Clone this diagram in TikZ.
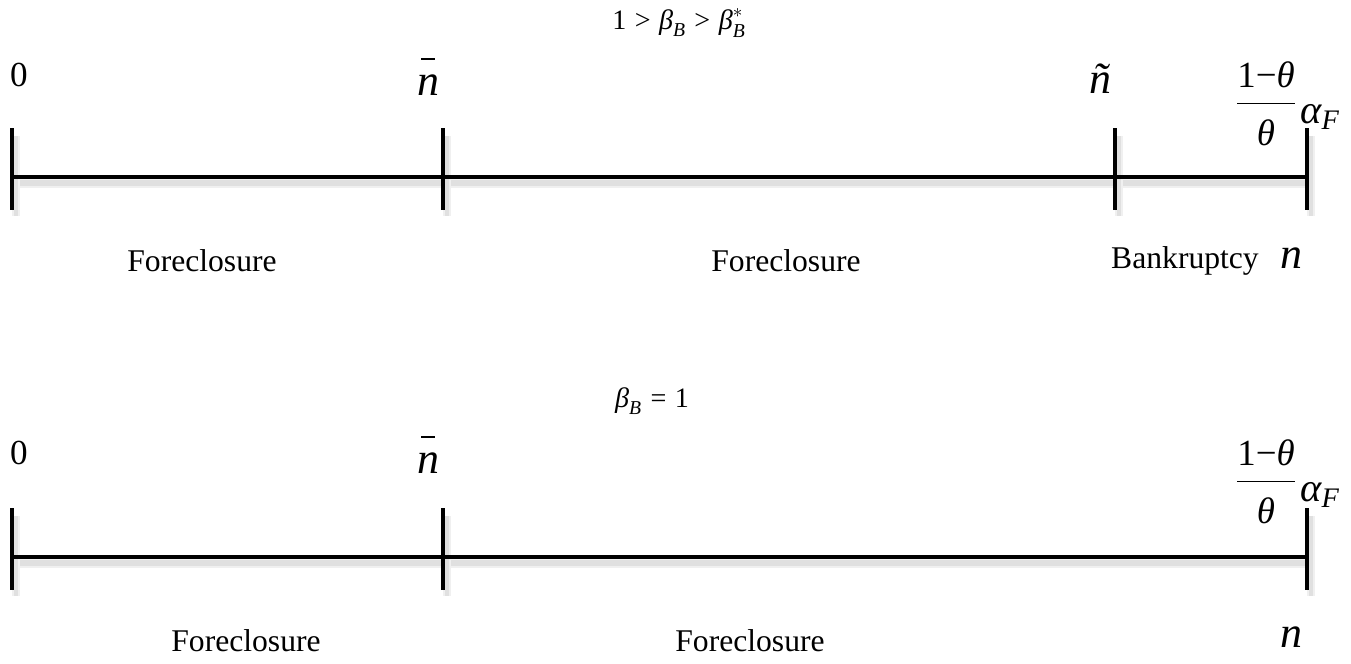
\documentclass[tikz,border=0pt]{standalone}
\usepackage{amsmath}
\usepackage{fontspec}
\setmainfont{Liberation Serif}
\newcommand{\iv}[1]{\text{\itshape #1}}
\newcommand{\nbar}{\makebox[0pt][l]{\hspace{2.5pt}\raisebox{20pt}{\rule{8pt}{0.9pt}}}\itshape n}
\newcommand{\fracF}{\(\dfrac{\text{1−\itshape θ}\rule[-6pt]{0pt}{6pt}}{\rule{0pt}{21pt}\iv{θ}}\)}

\begin{document}
\begin{tikzpicture}[x=0.02cm,y=-0.02cm]
    \useasboundingbox (0,0) rectangle (1351,663);
    % top line: 1 > beta_B > beta_B^*
    \node[font=\fontsize{16}{18}\selectfont] (ttl1) at (679,23) {\(\text{1} \mathrel{\text{>}} \iv{β}_{\iv{B}} \mathrel{\text{>}} \iv{β}^{*}_{\iv{B}}\)};
    \begin{scope}[shift={(4,6)}]
        \draw[black!6,line width=6pt] (12,177) -- (1307,177);
        \draw[black!12,line width=3pt] (12,177) -- (1307,177);
        \foreach \x in {12,443,1115,1307}{
            \draw[black!6,line width=5pt] (\x,130) -- (\x,210);
            \draw[black!12,line width=2.5pt] (\x,130) -- (\x,210);
        }
    \end{scope}
    \draw[line width=2pt] (12,177) -- (1307,177);
    \foreach \x in {12,443,1115,1307}{
        \draw[line width=2.3pt] (\x,128) -- (\x,210);
    }
    \node[font=\fontsize{20}{22}\selectfont] (zr1) at (19,75) {0};
    \node[font=\fontsize{25}{28}\selectfont,anchor=base] (nb1) at (428,95) {\nbar};
    \node[font=\fontsize{25}{28}\selectfont,anchor=base] (nt1) at (1100,93) {\itshape ñ};
    \node[font=\fontsize{21}{23}\selectfont] (fr1) at (1266,104) {\fracF};
    \node[font=\fontsize{23}{25}\selectfont] (af1) at (1320,117) {\(\iv{α}_{\iv{F}}\)};
    \node[font=\fontsize{18}{20}\selectfont] (fc1) at (202,261) {Foreclosure};
    \node[font=\fontsize{18}{20}\selectfont] (fc2) at (786,261) {Foreclosure};
    \node[font=\fontsize{18}{20}\selectfont] (bk1) at (1185,261) {Bankruptcy};
    \node[font=\fontsize{25}{28}\selectfont,anchor=base] (nn1) at (1291,268) {\itshape n};

    % bottom line: beta_B = 1
    \node[font=\fontsize{16}{18}\selectfont] (ttl2) at (652,401) {\(\iv{β}_{\iv{B}} \mathrel{\text{=}} \text{1}\)};
    \begin{scope}[shift={(4,6)}]
        \draw[black!6,line width=6pt] (12,557) -- (1307,557);
        \draw[black!12,line width=3pt] (12,557) -- (1307,557);
        \foreach \x in {12,443,1307}{
            \draw[black!6,line width=5pt] (\x,510) -- (\x,590);
            \draw[black!12,line width=2.5pt] (\x,510) -- (\x,590);
        }
    \end{scope}
    \draw[line width=2pt] (12,557) -- (1307,557);
    \foreach \x in {12,443,1307}{
        \draw[line width=2.3pt] (\x,508) -- (\x,590);
    }
    \node[font=\fontsize{20}{22}\selectfont] (zr2) at (19,453) {0};
    \node[font=\fontsize{25}{28}\selectfont,anchor=base] (nb2) at (428,473) {\nbar};
    \node[font=\fontsize{21}{23}\selectfont] (fr2) at (1266,482) {\fracF};
    \node[font=\fontsize{23}{25}\selectfont] (af2) at (1320,495) {\(\iv{α}_{\iv{F}}\)};
    \node[font=\fontsize{18}{20}\selectfont] (fc3) at (246,641) {Foreclosure};
    \node[font=\fontsize{18}{20}\selectfont] (fc4) at (750,641) {Foreclosure};
    \node[font=\fontsize{25}{28}\selectfont,anchor=base] (nn2) at (1291,647) {\itshape n};
\end{tikzpicture}
\end{document}
